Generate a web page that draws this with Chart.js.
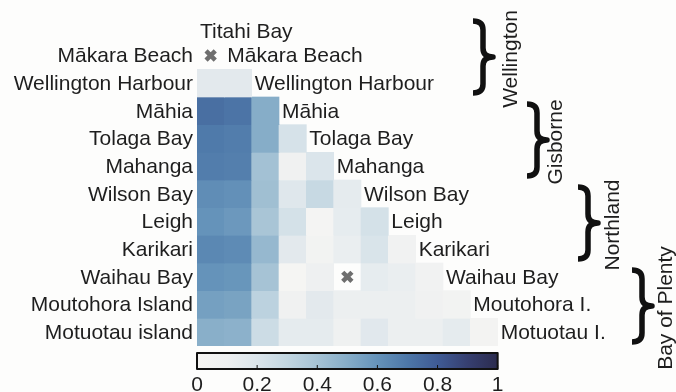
<!DOCTYPE html>
<html>
<head>
<meta charset="utf-8">
<script src="https://cdn.jsdelivr.net/npm/chart.js@4.4.1/dist/chart.umd.min.js"></script>
<style>
  html, body { margin: 0; padding: 0; background: #fdfdfc; }
  #wrap { width: 676px; height: 392px; }
</style>
</head>
<body>
<div id="wrap"><canvas id="heat" width="676" height="392"></canvas></div>
<script>
// sites, in row / column order
const sites = ['Titahi Bay', 'Mākara Beach', 'Wellington Harbour', 'Māhia', 'Tolaga Bay', 'Mahanga',
  'Wilson Bay', 'Leigh', 'Karikari', 'Waihau Bay', 'Moutohora Island', 'Motuotau island'];
const diagonalNames = ['Titahi Bay', 'Mākara Beach', 'Wellington Harbour', 'Māhia', 'Tolaga Bay', 'Mahanga',
  'Wilson Bay', 'Leigh', 'Karikari', 'Waihau Bay', 'Moutohora I.', 'Motuotau I.'];
const regionNames = ['Wellington', 'Gisborne', 'Northland', 'Bay of Plenty'];
const regionFirstRow = [0, 3, 6, 9];
const regionLastRow = [2, 5, 8, 11];
const colorbarTicks = [0, 0.2, 0.4, 0.6, 0.8, 1];

// lower triangle, one array per row (null = not measured)
const titahiBay = [];
const makaraBeach = [null];
const wellingtonHarbour = [0.16, 0.16];
const mahia = [0.73, 0.71, 0.50];
const tolagaBay = [0.69, 0.68, 0.50, 0.22];
const mahanga = [0.68, 0.67, 0.41, 0.08, 0.20];
const wilsonBay = [0.62, 0.61, 0.42, 0.18, 0.28, 0.15];
const leigh = [0.60, 0.58, 0.39, 0.23, 0.02, 0.14, 0.23];
const karikari = [0.64, 0.63, 0.45, 0.16, 0.05, 0.12, 0.21, 0.06];
const waihauBay = [0.60, 0.59, 0.40, 0.01, 0.10, null, 0.14, 0.12, 0.06];
const moutohoraIsland = [0.55, 0.54, 0.32, 0.08, 0.16, 0.11, 0.11, 0.11, 0.08, 0.05];
const motuotauIsland = [0.49, 0.48, 0.26, 0.15, 0.15, 0.09, 0.17, 0.11, 0.11, 0.15, 0.04];
const lowerTriangle = [titahiBay, makaraBeach, wellingtonHarbour, mahia, tolagaBay, mahanga,
  wilsonBay, leigh, karikari, waihauBay, moutohoraIsland, motuotauIsland];

// colour map
const cmapStops = [0, 0.1, 0.2, 0.3, 0.4, 0.5, 0.6, 0.7, 0.8, 0.9, 1];
const cmapColors = ['#f6f5f3', '#eef0f1', '#dbe5eb', '#c2d6e1', '#a6c3d5', '#86adc8',
  '#6593ba', '#4d77a8', '#3f5b95', '#363f70', '#2b2b4e'];

function hexToRgb(h) {
  return [parseInt(h.slice(1, 3), 16), parseInt(h.slice(3, 5), 16), parseInt(h.slice(5, 7), 16)];
}
function colorFor(v) {
  v = Math.max(0, Math.min(1, v));
  let k = 0;
  while (k < cmapStops.length - 2 && v > cmapStops[k + 1]) k++;
  const t = (v - cmapStops[k]) / (cmapStops[k + 1] - cmapStops[k]);
  const a = hexToRgb(cmapColors[k]), b = hexToRgb(cmapColors[k + 1]);
  const c = a.map((x, i) => Math.round(x + (b[i] - x) * t));
  return 'rgb(' + c.join(',') + ')';
}

// one floating-bar dataset per row, each cell spans row-0.5 .. row+0.5
const datasets = [];
const missing = [];
lowerTriangle.forEach((row, i) => {
  const data = sites.map(() => null);
  const colors = sites.map(() => 'rgba(0,0,0,0)');
  row.forEach((v, j) => {
    if (v === null) { missing.push({ x: sites[j], y: i }); return; }
    data[j] = [i - 0.5, i + 0.5];
    colors[j] = colorFor(v);
  });
  datasets.push({
    type: 'bar',
    label: sites[i],
    data: data,
    backgroundColor: colors,
    borderWidth: 0,
    grouped: false,
    barPercentage: 1,
    categoryPercentage: 1,
    order: 2
  });
});
datasets.push({
  type: 'scatter',
  label: 'missing',
  data: missing,
  pointStyle: 'crossRot',
  pointRadius: 6.5,
  pointBorderWidth: 4.5,
  borderColor: '#6e6e6e',
  backgroundColor: '#6e6e6e',
  order: 1
});

const FONT = '21px "Liberation Sans", Arial, sans-serif';
const TEXT = '#1e1e1e';

const decorations = {
  id: 'decorations',
  afterDraw(chart) {
    const ctx = chart.ctx;
    const ys = chart.scales.y;
    const area = chart.chartArea;
    const colW = (area.right - area.left) / sites.length;
    ctx.save();
    ctx.fillStyle = TEXT;
    ctx.font = FONT;
    ctx.textBaseline = 'middle';

    // row labels on the left (first site only sits on the diagonal)
    ctx.textAlign = 'right';
    sites.forEach((s, i) => {
      if (i === 0) return;
      ctx.fillText(s, area.left - 4, ys.getPixelForValue(i) + 1);
    });
    // labels on the diagonal
    ctx.textAlign = 'left';
    diagonalNames.forEach((s, i) => {
      ctx.fillText(s, area.left + i * colW + 3, ys.getPixelForValue(i) + (i === 0 ? 4 : 1));
    });

    // region braces
    const braceX = [473, 527, 578, 632];
    const labelX = [517, 562, 619, 672];
    ctx.strokeStyle = '#111';
    ctx.lineWidth = 5.5;
    ctx.lineJoin = 'round';
    regionNames.forEach((name, r) => {
      const y1 = ys.getPixelForValue(regionFirstRow[r] - 0.5) + 7;
      const y2 = ys.getPixelForValue(regionLastRow[r] + 0.5) - 4;
      const mid = (y1 + y2) / 2;
      const x0 = braceX[r], w = 20, xm = x0 + w / 2;
      ctx.beginPath();
      ctx.moveTo(x0, y1);
      ctx.quadraticCurveTo(xm, y1, xm, y1 + 9);
      ctx.lineTo(xm, mid - 9);
      ctx.quadraticCurveTo(xm, mid, x0 + w, mid);
      ctx.quadraticCurveTo(xm, mid, xm, mid + 9);
      ctx.lineTo(xm, y2 - 9);
      ctx.quadraticCurveTo(xm, y2, x0, y2);
      ctx.stroke();

      ctx.save();
      ctx.translate(labelX[r], mid + 2);
      ctx.rotate(-Math.PI / 2);
      ctx.textAlign = 'center';
      ctx.textBaseline = 'alphabetic';
      ctx.fillText(name, 0, 0);
      ctx.restore();
    });

    // colour bar
    const cbLeft = area.left, cbRight = area.left + 11 * colW;
    const cbTop = area.bottom + 7, cbH = 16;
    const grad = ctx.createLinearGradient(cbLeft, 0, cbRight, 0);
    cmapStops.forEach((s, k) => grad.addColorStop(s, cmapColors[k]));
    ctx.fillStyle = grad;
    ctx.fillRect(cbLeft, cbTop, cbRight - cbLeft, cbH);
    ctx.strokeStyle = '#111';
    ctx.lineWidth = 2;
    ctx.strokeRect(cbLeft, cbTop, cbRight - cbLeft, cbH);
    ctx.lineWidth = 1;
    ctx.fillStyle = TEXT;
    ctx.font = '21px "Liberation Sans", Arial, sans-serif';
    ctx.textAlign = 'center';
    ctx.textBaseline = 'alphabetic';
    colorbarTicks.forEach(t => {
      const x = cbLeft + t * (cbRight - cbLeft);
      ctx.beginPath();
      ctx.moveTo(x, cbTop + cbH);
      ctx.lineTo(x, cbTop + cbH - 4);
      ctx.stroke();
      ctx.fillText(String(t), x, cbTop + cbH + 22);
    });
    ctx.restore();
  }
};

new Chart(document.getElementById('heat').getContext('2d'), {
  type: 'bar',
  data: { labels: sites, datasets: datasets },
  options: {
    responsive: false,
    animation: false,
    layout: { padding: { left: 197, right: 151, top: 14, bottom: 46 } },
    scales: {
      x: { type: 'category', offset: true, display: false, grid: { display: false } },
      y: { type: 'linear', min: -0.5, max: 11.5, reverse: true, display: false }
    },
    plugins: { legend: { display: false }, tooltip: { enabled: false } }
  },
  plugins: [decorations]
});
</script>
</body>
</html>
